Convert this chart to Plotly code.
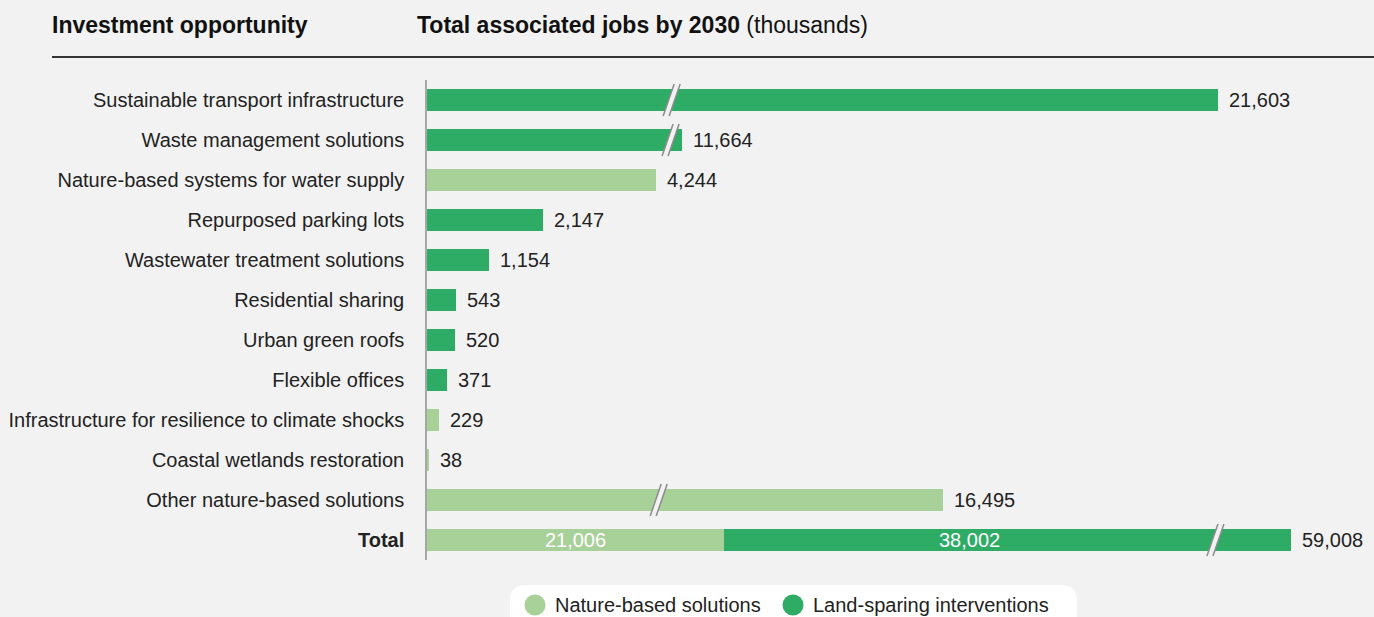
import plotly.graph_objects as go

# ---------------- data ----------------
categories = [
    "Sustainable transport infrastructure",
    "Waste management solutions",
    "Nature-based systems for water supply",
    "Repurposed parking lots",
    "Wastewater treatment solutions",
    "Residential sharing",
    "Urban green roofs",
    "Flexible offices",
    "Infrastructure for resilience to climate shocks",
    "Coastal wetlands restoration",
    "Other nature-based solutions",
]
values = [21603, 11664, 4244, 2147, 1154, 543, 520, 371, 229, 38, 16495]
groups = ["land", "land", "nature", "land", "land", "land", "land", "land",
          "nature", "nature", "nature"]
# lengths drawn on the broken axis (values above the break are shortened)
drawn = [14648, 4722, 4244, 2147, 1154, 543, 520, 371, 229, 38, 9556]
break_at = [4540, 4520, None, None, None, None, None, None, None, None, 4300]

total_label = "Total"
total_nature = 21006
total_land = 38002
total_all = 59008
total_nature_drawn = 5500
total_land_drawn = 10500
total_break_at = 14610

legend_names = ["Nature-based solutions", "Land-sparing interventions"]

# ---------------- style ----------------
BG = "#f2f2f2"
DARK = "#2eac66"
LIGHT = "#a8d199"
TXT = "#222222"
FONT = "Liberation Sans"
FS = 20

W, H = 1374, 617
ML, MR, MT, MB = 427, 0, 80, 57
PW = W - ML - MR
PH = H - MT - MB

def px(x):
    return (x - ML) / PW

def py(y):
    return (H - MB - y) / PH

n = len(categories)
rows = list(range(n + 1))
labels = categories + ["<b>" + total_label + "</b>"]

nat_x = [d if g == "nature" else None for d, g in zip(drawn, groups)] + [total_nature_drawn]
land_x = [d if g == "land" else None for d, g in zip(drawn, groups)] + [total_land_drawn]
nat_text = [""] * n + [f"{total_nature:,}"]

fig = go.Figure()
fig.add_trace(go.Bar(
    x=nat_x, y=rows, orientation="h", marker=dict(color=LIGHT, line=dict(width=0)),
    width=0.55, text=nat_text, textposition="inside", insidetextanchor="middle",
    constraintext="none",
    textfont=dict(color="white", size=FS, family=FONT), showlegend=False,
    hoverinfo="skip", cliponaxis=False,
))
fig.add_trace(go.Bar(
    x=land_x, y=rows, orientation="h", marker=dict(color=DARK, line=dict(width=0)),
    width=0.55, showlegend=False, hoverinfo="skip", cliponaxis=False,
))

annotations = []
# value labels
for i, (v, d) in enumerate(zip(values, drawn)):
    annotations.append(dict(x=d, y=i, xref="x", yref="y", text=f"{v:,}", showarrow=False,
                            xanchor="left", yanchor="middle", xshift=9,
                            font=dict(size=FS, color=TXT, family=FONT)))
annotations.append(dict(x=total_nature_drawn + total_land_drawn, y=n, xref="x", yref="y",
                        text=f"{total_all:,}", showarrow=False, xanchor="left",
                        yanchor="middle", xshift=9, font=dict(size=FS, color=TXT, family=FONT)))
# land-sparing total, centred in the visible part before the break
annotations.append(dict(x=(total_nature_drawn + total_break_at) / 2, y=n, xref="x", yref="y",
                        text=f"{total_land:,}", showarrow=False, xanchor="center",
                        yanchor="middle", font=dict(size=FS, color="white", family=FONT)))

# header
annotations.append(dict(x=px(52), y=py(25), xref="paper", yref="paper",
                        text="<b>Investment opportunity</b>", showarrow=False,
                        xanchor="left", yanchor="middle", xshift=-2,
                        font=dict(size=23, color="#111111", family=FONT)))
annotations.append(dict(x=px(417), y=py(25), xref="paper", yref="paper",
                        text="<b>Total associated jobs by 2030</b> (thousands)", showarrow=False,
                        xanchor="left", yanchor="middle", xshift=-2,
                        font=dict(size=23, color="#111111", family=FONT)))

shapes = []
# header rule
shapes.append(dict(type="line", xref="paper", yref="paper", x0=px(52), x1=px(W),
                   y0=py(57), y1=py(57), line=dict(color="#333333", width=2)))

# axis break marks
def add_break(xb, row):
    common = dict(type="path", xref="x", yref="y", xsizemode="pixel", ysizemode="pixel",
                  xanchor=xb, yanchor=row, layer="above")
    shapes.append(dict(path="M -9,-16 L -3,-16 L 8,16 L 2,16 Z", fillcolor=BG,
                       line=dict(width=0), **common))
    shapes.append(dict(path="M -9,-16 L 2,16", line=dict(color="#8c8c8c", width=1.5), **common))
    shapes.append(dict(path="M -3,-16 L 8,16", line=dict(color="#8c8c8c", width=1.5), **common))

for i, b in enumerate(break_at):
    if b is not None:
        add_break(b, i)
add_break(total_break_at, n)

# legend box (rounded)
r = 16
x0, x1 = 510 - ML, 1077 - ML
yt = (H - MB) - 585
yb = (H - MB) - 640
path = (f"M {x0 + r},{yt} L {x1 - r},{yt} Q {x1},{yt} {x1},{yt - r} "
        f"L {x1},{yb} L {x0},{yb} L {x0},{yt - r} Q {x0},{yt} {x0 + r},{yt} Z")
shapes.append(dict(type="path", xref="paper", yref="paper", xsizemode="pixel",
                   ysizemode="pixel", xanchor=0, yanchor=0, path=path,
                   fillcolor="white", line=dict(width=0), layer="below"))

# legend items (circles + labels)
for name, col, cx in [(legend_names[0], LIGHT, 535), (legend_names[1], DARK, 793)]:
    shapes.append(dict(type="circle", xref="paper", yref="paper", xsizemode="pixel",
                       ysizemode="pixel", xanchor=px(cx), yanchor=py(605),
                       x0=-10.5, x1=10.5, y0=-10.5, y1=10.5,
                       fillcolor=col, line=dict(width=0)))
    annotations.append(dict(x=px(cx + 18), y=py(605), xref="paper", yref="paper",
                            text=name, showarrow=False, xanchor="left", yanchor="middle",
                            font=dict(size=FS, color=TXT, family=FONT)))

fig.update_layout(
    width=W, height=H,
    margin=dict(l=ML, r=MR, t=MT, b=MB),
    paper_bgcolor=BG, plot_bgcolor=BG,
    barmode="stack", bargap=0,
    font=dict(family=FONT, size=FS, color=TXT),
    xaxis=dict(range=[0, PW / 0.054], visible=False, fixedrange=True),
    yaxis=dict(range=[n + 0.5, -0.5], tickvals=rows, ticktext=labels,
               showline=True, linecolor="#a6a6a6", linewidth=1.5,
               showgrid=False, zeroline=False, ticks="", ticklabelstandoff=17,
               tickfont=dict(size=FS, color=TXT, family=FONT), fixedrange=True),
    annotations=annotations, shapes=shapes,
    showlegend=False,
)

fig.write_html("out.html", config={"displayModeBar": False},
               post_script="document.body.style.margin='0';")
